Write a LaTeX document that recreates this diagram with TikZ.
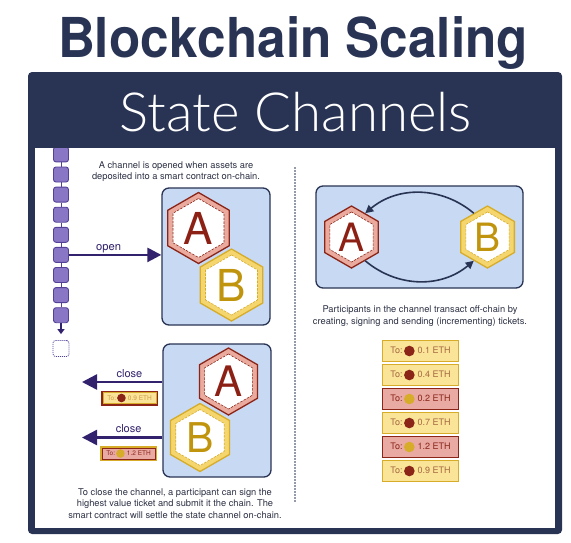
\documentclass[tikz,border=0pt]{standalone}
\usepackage{fontspec}
\setmainfont{TeX Gyre Heros}
\IfFontExistsTF{Lato Light}{\newfontfamily\lightfont{Lato Light}}{%
  \IfFontExistsTF{Fira Sans Light}{\newfontfamily\lightfont{Fira Sans Light}}{%
    \newfontfamily\lightfont{TeX Gyre Heros}}}
\usetikzlibrary{shapes.geometric,arrows.meta,positioning}

\definecolor{navy}{RGB}{41,52,84}
\definecolor{chainfill}{RGB}{137,118,196}
\definecolor{chaindraw}{RGB}{84,64,150}
\definecolor{indigo}{RGB}{50,33,108}
\definecolor{boxblue}{RGB}{199,217,243}
\definecolor{darkred}{RGB}{139,37,24}
\definecolor{salmon}{RGB}{234,170,158}
\definecolor{gold}{RGB}{214,172,40}
\definecolor{yellowband}{RGB}{245,214,110}
\definecolor{letA}{RGB}{140,32,20}
\definecolor{letB}{RGB}{193,148,14}
\definecolor{paleyellow}{RGB}{250,228,152}
\definecolor{pinkfill}{RGB}{233,170,164}
\definecolor{textgrey}{RGB}{45,49,68}
\definecolor{tickettxt}{RGB}{165,104,66}
\definecolor{fadedtxt}{RGB}{205,155,75}
\colorlet{dota}{darkred}
\colorlet{dotb}{gold}

% hexagon token: name, centre, radius, letter, font size
\newcommand{\token}[5]{%
  \node[hexag={2*#3pt}, hex#4] (#1) at (#2) {};
  \node[hexag={2*#3pt-12pt}, hexin#4] (#1i) at (#2) {};
  \node[text=let#4, font=\fontsize{#5}{#5}\selectfont] (#1t) at (#2) {#4};
}
% ticket: name, centre, style, dot colour, dot radius, amount
\newcommand{\ticket}[6]{%
  \node[#3] (#1) at (#2) {To:\,\tikz[baseline=-0.32em]\fill[#4] (0,0) circle (#5);\,\,#6 ETH};
}

\begin{document}
\begin{tikzpicture}[x=1pt, y=-1pt,
    every node/.style={inner sep=0pt},
    blk/.style={draw=chaindraw, fill=chainfill, line width=0.9pt, rounded corners=2.5pt, minimum size=15pt},
    panel/.style={draw=navy, fill=boxblue, line width=1.3pt, rounded corners=7pt},
    hexag/.style={regular polygon, regular polygon sides=6, shape border rotate=30, minimum size=#1},
    hexA/.style={draw=darkred, fill=salmon, line width=1.3pt},
    hexB/.style={draw=gold, fill=yellowband, line width=1.3pt},
    hexinA/.style={draw=darkred, fill=white, line width=0.6pt, dash pattern=on 2.5pt off 1.2pt},
    hexinB/.style={draw=gold, fill=white, line width=0.6pt, dash pattern=on 2.5pt off 1.2pt},
    note/.style={text=textgrey, align=center, font=\fontsize{9.3}{11.5}\selectfont},
    ticketa/.style={draw=gold, fill=paleyellow, text=tickettxt, line width=1.3pt, minimum width=76pt, minimum height=21pt, font=\fontsize{9}{9}\selectfont},
    ticketb/.style={draw=darkred, fill=pinkfill, text=darkred, line width=1.3pt, minimum width=76pt, minimum height=21pt, font=\fontsize{9}{9}\selectfont},
    thick arrow/.style={indigo, line width=2.5pt, -{Triangle[length=15pt,width=15pt]}},
    swap arrow/.style={navy, line width=1.6pt, -{Triangle[length=8pt,width=8pt]}},
  ]
  \useasboundingbox (0,0) rectangle (571,542);

  % frame and header
  \fill[navy, rounded corners=4pt] (28,72) rectangle (562,534);
  \fill[white] (35,148) rectangle (555,528);
  \node[text=navy, font=\bfseries\fontsize{55}{55}\selectfont, anchor=base] (title) at (293,57) {\resizebox{470pt}{\height}{Blockchain Scaling}};
  \node[text=white, font=\lightfont\fontsize{54}{54}\selectfont, anchor=base] (subtitle) at (296,131) {\resizebox{352pt}{\height}{State Channels}};

  % the chain
  \begin{scope}
    \clip (35,148) rectangle (555,528);
    \foreach \k in {0,...,8}
      \node[blk] (blk\k) at (61,{154.4+20.1*\k}) {};
    \foreach \k in {1,...,8}{
      \pgfmathtruncatemacro{\p}{\k-1}
      \draw[chaindraw, line width=1pt] (blk\p) -- (blk\k);
    }
  \end{scope}
  \node[draw=chaindraw, line width=0.8pt, dash pattern=on 1pt off 1pt, rounded corners=2.5pt, minimum size=16pt] (blknext) at (61,348.5) {};
  \draw[indigo, line width=1.4pt, -{Triangle[length=5pt,width=7pt]}, shorten >=6pt] (blk8) -- (blknext);

  % opening the channel
  \node[note] (opentxt) at (176,171.5) {A channel is opened when assets are\\deposited into a smart contract on-chain.};
  \node[panel, minimum width=108pt, minimum height=137pt] (openbox) at (216,256.5) {};
  \token{hA1}{198.5,228}{35.5}{A}{44}
  \token{hB1}{231.5,285}{36}{B}{44}
  \draw[thick arrow, -{Triangle[length=14pt,width=14pt]}] (blk5.east) -- (blk5.east -| openbox.west)
    node[pos=0.43, above=1pt, text=indigo, font=\fontsize{11.2}{11.2}\selectfont] (openlbl) {open};

  % closing the channel
  \node[panel, minimum width=108pt, minimum height=133pt] (closebox) at (217,410.5) {};
  \token{hA2}{228.5,381.5}{33.5}{A}{42}
  \token{hB2}{200,437.5}{34}{B}{41}
  \coordinate (endA) at (82,382);
  \coordinate (endB) at (82,437.5);
  \draw[thick arrow] (closebox.west |- endA) -- (endA)
    node[pos=0.41, above=3.5pt, text=indigo, font=\fontsize{11}{11}\selectfont] (closeA) {close};
  \draw[thick arrow] (closebox.west |- endB) -- (endB)
    node[pos=0.42, above=3.5pt, text=indigo, font=\fontsize{11}{11}\selectfont] (closeB) {close};
  \ticket{tkA}{129.5,398}{ticketa, text=fadedtxt, line width=1pt, minimum width=53pt, minimum height=11pt, font=\fontsize{6.5}{6.5}\selectfont, preaction={draw=darkred, line width=4pt}}{dota}{4.3pt}{0.9}
  \ticket{tkB}{128.5,453.5}{ticketb, line width=1pt, minimum width=53pt, minimum height=11pt, font=\fontsize{6.5}{6.5}\selectfont, preaction={draw=gold, line width=4pt}}{dotb}{4.3pt}{1.2}
  \node[note] (closetxt) at (175,503.5) {To close the channel, a participant can sign the\\highest value ticket and submit it the chain. The\\smart contract will settle the state channel on-chain.};

  % separator
  \coordinate (septop) at (295,168);
  \coordinate (sepbot) at (295,502);
  \draw[navy, line width=1.9pt, line cap=round, dash pattern=on 0pt off 3pt] (septop) -- (sepbot);

  % off-chain exchange
  \node[panel, minimum width=207pt, minimum height=102pt] (chanbox) at (419.5,237) {};
  \token{hA3}{351.5,237}{31}{A}{39}
  \token{hB3}{487.5,237}{31}{B}{39}
  \draw[swap arrow] (hB3.120) to[bend right=40] (hA3.60);
  \draw[swap arrow] (hA3.-60) to[bend right=40] (hB3.-120);
  \node[note] (chantxt) at (420,316) {Participants in the channel transact off-chain by\\creating, signing and sending (incrementing) tickets.};

  % tickets
  \foreach \dt/\amt [count=\i] in {a/0.1, a/0.4, b/0.2, a/0.7, b/1.2, a/0.9}{
    \ticket{tk\i}{420.5,{351+24*(\i-1)}}{ticket\dt}{dot\dt}{5.3pt}{\amt}
  }
\end{tikzpicture}
\end{document}
